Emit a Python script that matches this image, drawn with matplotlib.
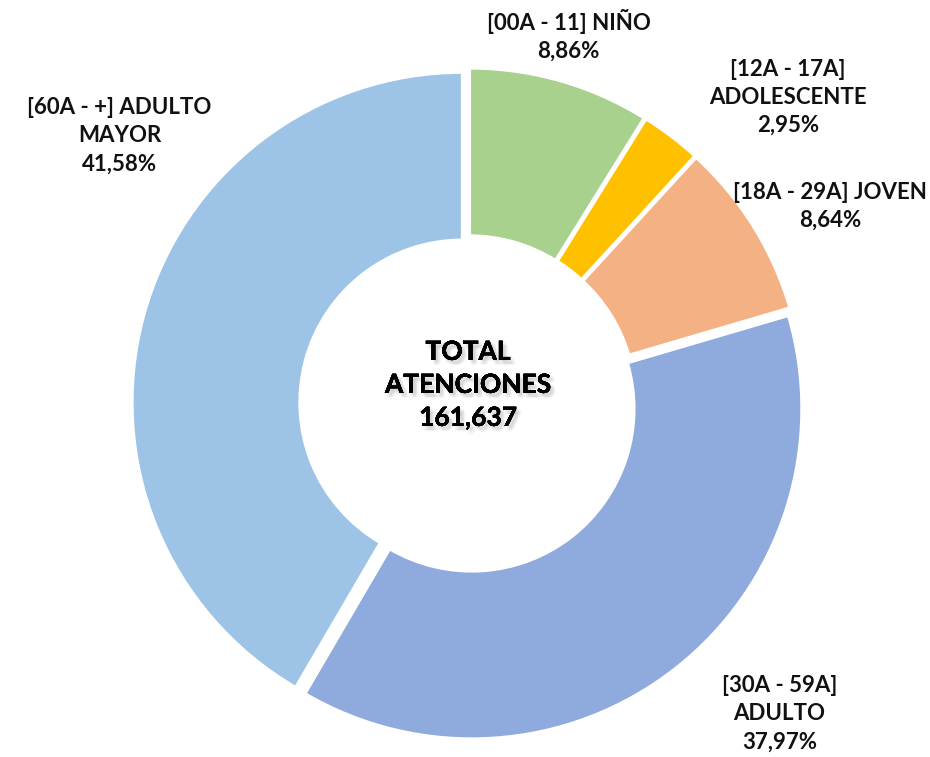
import matplotlib.pyplot as plt
import matplotlib.patheffects as pe

# Datos
grupos = ["[00A - 11] NIÑO", "[12A - 17A]\nADOLESCENTE", "[18A - 29A] JOVEN",
          "[30A - 59A]\nADULTO", "[60A - +] ADULTO\nMAYOR"]
porcentajes = [8.86, 2.95, 8.64, 37.97, 41.58]
colores = ["#A9D18E", "#FFC000", "#F4B183", "#8FAADC", "#9DC3E6"]
total = "161,637"

# Posiciones de etiquetas (en unidades del radio)
pos_etiquetas = [(0.30, 1.10), (0.955, 0.915), (1.08, 0.59), (0.93, -0.925), (-1.04, 0.80)]

plt.rcParams['font.family'] = ['Lato', 'DejaVu Sans']

fig = plt.figure(figsize=(9.3, 7.57), dpi=100)
ax = fig.add_axes([0, 0, 1, 1])

ax.pie(porcentajes, colors=colores, startangle=90, counterclock=False,
       radius=0.985, explode=[0.018] * len(porcentajes),
       wedgeprops=dict(width=0.5, edgecolor='white', linewidth=2))

for g, p, (x, y) in zip(grupos, porcentajes, pos_etiquetas):
    txt = g + "\n" + f"{p:.2f}".replace(".", ",") + "%"
    ax.text(x, y, txt, ha='center', va='center', fontsize=16, fontweight='bold',
            color='#111111', linespacing=1.42)

# Sombra difusa simulada con varias capas
sombra = [pe.withSimplePatchShadow(offset=(dx, -dy), shadow_rgbFace='gray', alpha=0.07)
          for dx, dy in [(1, 1), (2, 2), (3, 3), (2, 4), (4, 3), (1, 3), (3, 1)]]
ax.text(0, 0.057, "TOTAL\nATENCIONES\n" + total, ha='center', va='center',
        fontsize=19, fontweight='bold', color='black', linespacing=1.45,
        path_effects=sombra + [pe.Normal()])

ax.set_xlim(-468 / 335, (930 - 468) / 335)
ax.set_ylim(-353 / 335, 404 / 335)
ax.set_aspect('auto')
ax.axis('off')

plt.savefig("out.png", dpi=100)
